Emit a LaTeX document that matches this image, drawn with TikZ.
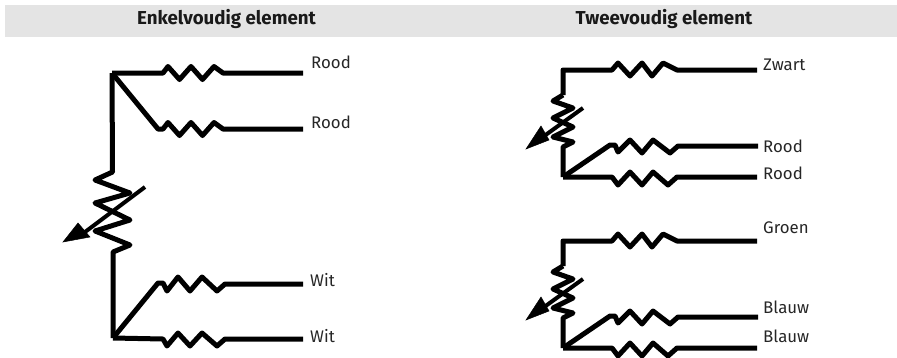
\documentclass[tikz,border=0pt]{standalone}
\usepackage{fontspec}
\setmainfont{Fira Sans}
\definecolor{band}{HTML}{E4E4E4}
\tikzset{
  x=1pt,y=-1pt,
  wire/.style={line width=5pt,line join=round,line cap=butt,black},
  lbl/.style={anchor=base west,inner sep=0pt,font=\fontsize{16.8}{19}\selectfont,text=black!85},
  hdr/.style={anchor=base,inner sep=0pt,font=\fontsize{18.7}{20}\selectfont\bfseries,text=black!90},
  head/.style={fill=black,draw=black,line width=.5pt,line join=miter}
}
% wave drawn from the current point, rising first
\newcommand{\wavepath}{ -- ++(5,-6.5) -- ++(11.5,13) -- ++(11.5,-13) -- ++(11.5,13) -- ++(11.5,-13) -- ++(9,6.5)}
\begin{document}
\begin{tikzpicture}
\useasboundingbox (0,0) rectangle (897,357);
\fill[band] (5,5) rectangle (897,37);
\node[hdr] (h1) at (226.5,24) {Enkelvoudig element};
\node[hdr] (h2) at (664,24) {Tweevoudig element};
% left circuit
\coordinate (jt) at (112,73);
\coordinate (jb) at (113,338);
\coordinate (e1) at (303,73);
\coordinate (e2) at (303,129);
\coordinate (e3) at (303,284);
\coordinate (e4) at (303,339);
\draw[wire] (jt) -- (163,73) \wavepath -- (e1);
\draw[wire] (jt) -- (158,129) -- (163,129) \wavepath -- (e2);
\draw[wire] (jb) -- (158,283) -- (163,283) -- (167,291) -- (178,277) -- (190,291) -- (202,277) -- (217,291) -- (225,284) -- (e3);
\draw[wire] (jb) -- (163,339) -- (167,346) -- (178,333) -- (190,346) -- (202,333) -- (217,346) -- (225,339) -- (e4);
\draw[wire] (jt) -- (112.5,172) -- (95,180) -- (130,193) -- (95,203) -- (130,220) -- (95,231) -- (130,245) -- (113,252) -- (jb);
\coordinate (a1) at (145,187);
\coordinate (a2) at (85,232);
\coordinate (a3) at (63,242);
\draw[wire,line width=4pt] (a1) -- (a2);
\fill[head] (a3) -- (78,223) -- (90,237) -- cycle;
\node[lbl] (r1) at (311,68) {Rood};
\node[lbl] (r2) at (311,128) {Rood};
\node[lbl] (w1) at (310,286) {Wit};
\node[lbl] (w2) at (310,342) {Wit};
% right circuits
\foreach \dy in {0,171}{
  \begin{scope}[yshift=-\dy pt]
  \coordinate (rj) at (563,177);
  \draw[wire] (563,95) -- (563,70) -- (612,70) -- (618,63) -- (630,76) -- (642,63) -- (652,76) -- (663,63) -- (677,70) -- (757,70);
  \draw[wire] (rj) -- (610,145) -- (615,145) -- (618,152) -- (630,140) -- (642,153) -- (653,140) -- (670,153) -- (678,146) -- (758,146);
  \draw[wire] (rj) -- (612,177) -- (618,185) -- (630,172) -- (642,185) -- (653,172) -- (668,185) -- (677,177) -- (757,177);
  \draw[wire] (563,95) -- (553,101) -- (573,108) -- (553,118) -- (573,127) -- (553,137) -- (573,142) -- (563,147) -- (rj);
  \draw[wire,line width=4pt] (583,108) -- (540,139);
  \fill[head] (526,149) -- (541,126) -- (549,140) -- cycle;
  \end{scope}
}
\node[lbl] (z1) at (763,70) {Zwart};
\node[lbl] (z2) at (763,152) {Rood};
\node[lbl] (z3) at (763,179) {Rood};
\node[lbl] (z4) at (763,233) {Groen};
\node[lbl] (z5) at (763,313) {Blauw};
\node[lbl] (z6) at (763,342) {Blauw};
\end{tikzpicture}
\end{document}
